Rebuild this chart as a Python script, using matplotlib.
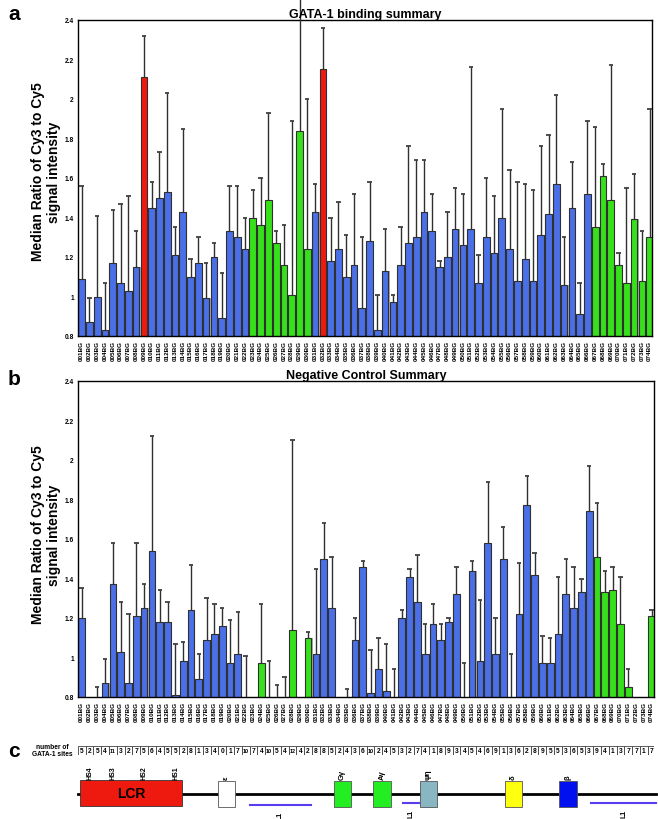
import numpy as np
import matplotlib
matplotlib.use("Agg")
import matplotlib.pyplot as plt
import matplotlib.patches as patches

plt.rcParams['font.family'] = ['Liberation Sans', 'DejaVu Sans']
plt.rcParams['font.weight'] = 'bold'

# --- DONNEES ---
probes = [f"{i:03d}BG" for i in range(1, 75)]

# panel a : GATA-1 binding summary
a_vals = [1.09, 0.87, 1.00, 0.83, 1.17, 1.07, 1.03, 1.15, 2.11, 1.45,
          1.50, 1.53, 1.21, 1.43, 1.10, 1.17, 0.99, 1.20, 0.89, 1.33,
          1.30, 1.24, 1.40, 1.36, 1.49, 1.27, 1.16, 1.01, 1.84, 1.24,
          1.43, 2.15, 1.18, 1.24, 1.10, 1.16, 0.94, 1.28, 0.83, 1.13,
          0.97, 1.16, 1.27, 1.30, 1.43, 1.33, 1.15, 1.20, 1.34, 1.26,
          1.34, 1.07, 1.30, 1.22, 1.40, 1.24, 1.08, 1.19, 1.08, 1.31,
          1.42, 1.57, 1.06, 1.45, 0.91, 1.52, 1.35, 1.61, 1.49, 1.16,
          1.07, 1.39, 1.08, 1.30]
a_err = [1.56, 0.99, 1.41, 1.07, 1.44, 1.47, 1.51, 1.33, 2.32, 1.58,
         1.73, 2.03, 1.35, 1.85, 1.19, 1.30, 1.17, 1.27, 1.12, 1.56,
         1.56, 1.40, 1.54, 1.60, 1.93, 1.33, 1.36, 1.89, 2.55, 2.00,
         1.57, 2.36, 1.40, 1.48, 1.31, 1.52, 1.30, 1.58, 1.01, 1.34,
         1.01, 1.35, 1.76, 1.69, 1.69, 1.52, 1.18, 1.43, 1.55, 1.52,
         2.16, 1.21, 1.60, 1.51, 1.95, 1.64, 1.58, 1.57, 1.54, 1.76,
         1.82, 2.02, 1.30, 1.68, 1.07, 1.89, 1.86, 1.67, 2.17, 1.22,
         1.55, 1.62, 1.33, 1.95]
a_red = ["009BG", "032BG"]
a_green = ["023BG", "024BG", "025BG", "026BG", "027BG", "028BG", "029BG", "030BG",
           "067BG", "068BG", "069BG", "070BG", "071BG", "072BG", "073BG", "074BG"]

# panel b : Negative Control Summary (nan = pas de mesure)
nan = np.nan
b_vals = [1.20, nan, 0.75, 0.87, 1.37, 1.03, 0.87, 1.21, 1.25, 1.54,
          1.18, 1.18, 0.81, 0.98, 1.24, 0.89, 1.09, 1.12, 1.16, 0.97,
          1.02, 0.75, nan, 0.97, 0.75, 0.75, 0.75, 1.14, nan, 1.10,
          1.02, 1.50, 1.25, nan, 0.75, 1.09, 1.46, 0.82, 0.94, 0.83,
          0.75, 1.20, 1.41, 1.28, 1.02, 1.17, 1.09, 1.18, 1.32, 0.75,
          1.44, 0.98, 1.58, 1.02, 1.50, 0.75, 1.22, 1.77, 1.42, 0.97,
          0.97, 1.12, 1.32, 1.25, 1.33, 1.74, 1.51, 1.33, 1.34, 1.17,
          0.85, nan, nan, 1.21]
b_err = [1.35, nan, 0.85, 0.99, 1.58, 1.28, 1.22, 1.58, 1.37, 2.12,
         1.34, 1.28, 1.07, 1.08, 1.47, 1.02, 1.30, 1.27, 1.25, 1.19,
         1.23, 1.01, nan, 1.27, 0.98, 0.86, 0.90, 2.10, nan, 1.13,
         1.45, 1.68, 1.51, nan, 0.84, 1.20, 1.49, 1.04, 1.10, 1.07,
         0.94, 1.24, 1.45, 1.52, 1.17, 1.27, 1.17, 1.20, 1.46, 0.97,
         1.49, 1.29, 1.89, 1.20, 1.66, 1.02, 1.48, 1.92, 1.53, 1.11,
         1.10, 1.41, 1.50, 1.46, 1.40, 1.97, 1.78, 1.44, 1.46, 1.41,
         0.94, nan, nan, 1.24]
b_green = ["024BG", "028BG", "030BG", "067BG", "068BG", "069BG", "070BG",
           "071BG", "074BG"]

# panel c : nombre de sites GATA-1
gata_sites = [5, 2, 5, 4, 11, 3, 2, 7, 5, 6, 4, 5, 5, 2, 8, 1, 3, 4, 0, 1,
              7, 10, 7, 4, 10, 5, 4, 12, 4, 2, 8, 8, 5, 2, 4, 3, 6, 10, 2, 4,
              5, 3, 2, 7, 4, 1, 8, 9, 3, 4, 5, 4, 6, 9, 1, 3, 6, 2, 8, 9,
              5, 5, 3, 6, 5, 3, 9, 4, 1, 3, 7, 7, 1, 7]

BLEU = '#4a6fe6'
ROUGE = '#ee1a10'
VERT = '#36e01a'

W, H = 658, 820
fig = plt.figure(figsize=(W / 100, H / 100), dpi=100)


def px(x0, y0, x1, y1):
    return [x0 / W, 1 - y1 / H, (x1 - x0) / W, (y1 - y0) / H]


def panneau(rect, vals, errs, couleurs, titre, clip):
    ax = fig.add_axes(rect)
    x = np.arange(len(vals))
    v = np.array(vals, dtype=float)
    e = np.array(errs, dtype=float)
    # ombre grise a droite des barres
    ax.bar(x + 0.14, v, width=0.86, color='#a8a8a8', zorder=1)
    ax.bar(x, v, width=0.86, color=couleurs, edgecolor='#303030', linewidth=0.8, zorder=2)
    ok = ~np.isnan(e)
    ax.vlines(x[ok], np.where(np.isnan(v), 0.0, v)[ok], e[ok], color='#303030',
              linewidth=1.0, zorder=3, clip_on=clip)
    ax.hlines(e[ok], x[ok] - 0.28, x[ok] + 0.28, color='#303030', linewidth=1.2,
              zorder=3, clip_on=clip)
    ax.set_xlim(-0.47, 73.3)
    ax.set_ylim(0.8, 2.4)
    ax.set_yticks([0.8, 1, 1.2, 1.4, 1.6, 1.8, 2, 2.2, 2.4])
    ax.set_yticklabels(['0.8', '1', '1.2', '1.4', '1.6', '1.8', '2', '2.2', '2.4'],
                       fontsize=4.8, fontweight='bold')
    ax.set_xticks(x)
    ax.set_xticklabels(probes, rotation=90, fontsize=4.6, fontweight='bold')
    ax.tick_params(length=0, pad=3)
    for s in ax.spines.values():
        s.set_linewidth(1.0)
    ax.set_title(titre, fontsize=9, fontweight='bold', pad=2)
    return ax


col_a = [ROUGE if p in a_red else VERT if p in a_green else BLEU for p in probes]
col_b = [VERT if p in b_green else BLEU for p in probes]

ax_a = panneau(px(78, 21, 652, 337), a_vals, a_err, col_a, "GATA-1 binding summary", False)
ax_b = panneau(px(78, 382, 654, 698), b_vals, b_err, col_b, "Negative Control Summary", True)

ylab = "Median Ratio of Cy3 to Cy5\nsignal intensity"
fig.text(46 / W, 1 - 172 / H, ylab, rotation=90, ha='center', va='center',
         fontsize=10, fontweight='bold', linespacing=1.25)
fig.text(46 / W, 1 - 535 / H, ylab, rotation=90, ha='center', va='center',
         fontsize=10, fontweight='bold', linespacing=1.25)

for lettre, yy in [('a', 14), ('b', 380), ('c', 752)]:
    fig.text(8 / W, 1 - yy / H, lettre, fontsize=15, fontweight='bold', va='center')

# --- rangee des sites GATA-1 ---
ax_n = fig.add_axes(px(78, 747, 654, 756))
xn = np.arange(len(gata_sites))
ax_n.bar(xn, 1, width=1, bottom=0, color='white', edgecolor='#404040', linewidth=0.6)
for i, n in enumerate(gata_sites):
    ax_n.text(i, 0.5, str(n), ha='center', va='center', fontsize=4.8 if n < 10 else 4.0,
              fontweight='bold')
ax_n.set_xlim(-0.47, 73.3)
ax_n.set_ylim(0, 1)
ax_n.axis('off')
fig.text(52 / W, 1 - 751 / H, "number of\nGATA-1 sites", ha='center', va='center',
         fontsize=4.8, fontweight='bold', linespacing=1.0)

# --- carte du locus beta-globine (coordonnees en pixels) ---
ax_c = fig.add_axes([0, 0, 1, 1])
ax_c.set_xlim(0, W)
ax_c.set_ylim(H, 0)
ax_c.axis('off')
ax_c.plot([78, 656], [795, 795], color='black', linewidth=2, zorder=1)

ax_c.add_patch(patches.Rectangle((80, 781), 102, 26, facecolor='#ee1a10',
                                 edgecolor='#333333', linewidth=0.6, zorder=2))
ax_c.text(131, 794, "LCR", ha='center', va='center', fontsize=10, fontweight='bold')
for nom, xx in [("HS4", 90), ("HS3", 113), ("HS2", 144), ("HS1", 176)]:
    ax_c.text(xx, 780, nom, rotation=90, ha='center', va='bottom', fontsize=5,
              fontweight='bold')

genes = [("ε", 218, 235, 'white'), ("Gγ", 334, 351, '#22ee22'),
         ("Aγ", 373, 391, '#22ee22'), ("ψη", 420, 437, '#88b6c2'),
         ("δ", 505, 522, '#ffff10'), ("β", 559, 577, '#0010ee')]
for nom, x0, x1, c in genes:
    ax_c.add_patch(patches.Rectangle((x0, 782), x1 - x0, 26, facecolor=c,
                                     edgecolor='#555555', linewidth=0.6, zorder=2))
    ax_c.text((x0 + x1) / 2, 780, nom, rotation=90, ha='center', va='bottom',
              fontsize=5.5, fontweight='bold')

for x0, x1, yy in [(250, 311, 806), (403, 419, 804), (591, 656, 804)]:
    ax_c.plot([x0, x1], [yy, yy], color='#5a3cf0', linewidth=1.5)
    ax_c.text((x0 + x1) / 2, yy + 6, "L1", rotation=90, ha='center', va='top',
              fontsize=5, fontweight='bold')

fig.savefig("out.png", dpi=100)
